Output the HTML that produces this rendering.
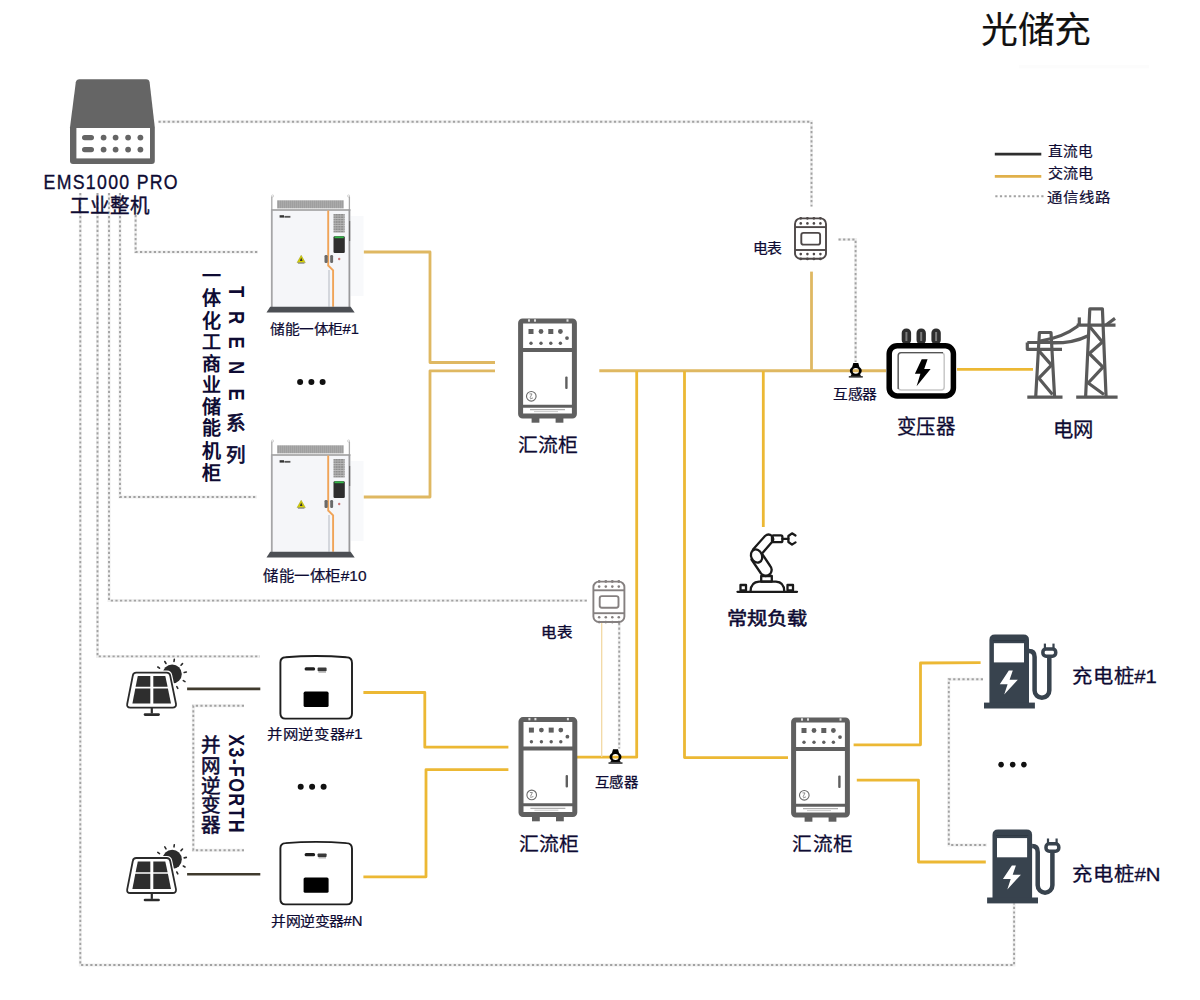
<!DOCTYPE html>
<html lang="zh-CN"><head><meta charset="utf-8">
<style>
html,body{margin:0;padding:0;background:#fff;}
body{width:1200px;height:1000px;overflow:hidden;font-family:"Liberation Sans",sans-serif;}
svg{display:block;}
svg text{font-family:"Liberation Sans",sans-serif;fill:#0e0b33;}
.m{stroke:#0e0b33;stroke-width:0.35px;paint-order:stroke;}
.b{font-weight:700;}
.dot{fill:none;stroke:#a2a2a2;stroke-width:1.9;stroke-dasharray:2.2 2.4;}
.dotu{fill:none;stroke:#f0f0f0;stroke-width:3;}
.ac{fill:none;stroke:#ecb834;stroke-width:2.8;stroke-linejoin:round;}
.acm{stroke:#dfb862;}
.dc{fill:none;stroke:#403b2e;stroke-width:2.6;}
</style></head>
<body>
<svg id="s" width="1200" height="1000" viewBox="0 0 1200 1000">
<defs>
  <pattern id="grill" width="2" height="8" patternUnits="userSpaceOnUse">
    <rect width="2" height="8" fill="#aaaaaa"/><rect width="0.8" height="8" fill="#9c9c9c"/>
  </pattern>
  <pattern id="grid" width="2.75" height="2.4" patternUnits="userSpaceOnUse">
    <rect width="2.75" height="2.4" fill="#8e8e8e"/><rect width="2.75" height="0.7" fill="#c4c4c4"/><rect width="0.6" height="2.4" fill="#b8b8b8"/>
  </pattern>
  <!-- storage cabinet, local origin = top-left -->
  <g id="cab">
    <rect x="84.5" y="22" width="13" height="80" fill="#f8f9fb"/>
    <line x1="5.8" y1="2.5" x2="5.8" y2="16" stroke="#a9a9a9" stroke-width="1.3"/>
    <line x1="83.4" y1="2.5" x2="83.4" y2="16" stroke="#a9a9a9" stroke-width="1.3"/>
    <circle cx="6.6" cy="2" r="1.1" fill="none" stroke="#bbb" stroke-width="0.6"/>
    <circle cx="82.6" cy="2" r="1.1" fill="none" stroke="#bbb" stroke-width="0.6"/>
    <rect x="11.1" y="6.3" width="66.6" height="8.1" fill="url(#grill)"/>
    <rect x="5" y="15.5" width="79.4" height="97.5" fill="#f5f6f9"/>
    <line x1="5" y1="16" x2="84.4" y2="16" stroke="#989898" stroke-width="1.6"/>
    <line x1="5.8" y1="15.5" x2="5.8" y2="113" stroke="#a6a6a8" stroke-width="1.8"/>
    <line x1="83.4" y1="15.5" x2="83.4" y2="113" stroke="#9a9a9c" stroke-width="1.8"/>
    <line x1="83.6" y1="27" x2="83.6" y2="47" stroke="#6a6a6a" stroke-width="1.2"/>
    <rect x="13.6" y="21.2" width="4.4" height="2.4" fill="#333"/><rect x="18.4" y="21.9" width="6" height="1.8" fill="#555"/>
    <line x1="63" y1="76" x2="63" y2="112.8" stroke="#c6cad2" stroke-width="1.4"/>
    <polyline points="62.2,16.5 62.2,71.5 67.1,76.4 67.1,112.8" fill="none" stroke="#f0a458" stroke-width="1.9"/>
    <rect x="67.5" y="20" width="11.2" height="18.6" fill="url(#grid)"/>
    <rect x="67.5" y="42.2" width="11.3" height="16.8" rx="1.2" fill="#2e2e2e"/>
    <rect x="68.5" y="42.4" width="9.3" height="1.8" fill="#36b84a"/>
    <rect x="58.5" y="61" width="3.2" height="8" rx="1.2" fill="#6a6a6a"/>
    <rect x="64.2" y="61" width="2.9" height="8" rx="1.2" fill="#6a6a6a"/>
    <circle cx="73.2" cy="65" r="1.2" fill="#c77"/>
    <polygon points="35.2,61.3 39.3,68.6 31.1,68.6" fill="#d8d200" stroke="#9a9a20" stroke-width="0.5" stroke-linejoin="round"/>
    <path d="M35.2 63.6 L36.6 66.9 L33.8 66.9 Z" fill="#333"/>
    <rect x="32" y="68.6" width="6.4" height="1" fill="#777"/>
    <polygon points="4.2,112.8 84.6,112.8 88.7,118.5 0.5,118.5" fill="#4c4f54"/>
  </g>
  <!-- combiner cabinet, origin top-left -->
  <g id="comb">
    <rect x="13.6" y="98" width="7.8" height="6.3" fill="#5f5f5f"/>
    <rect x="37.6" y="98" width="7.8" height="6.3" fill="#5f5f5f"/>
    <rect x="2.6" y="2.6" width="53.8" height="95" rx="2" fill="#fff" stroke="#606060" stroke-width="5"/>
    <line x1="2.6" y1="31.5" x2="56.4" y2="31.5" stroke="#5f5f5f" stroke-width="4"/>
    <line x1="2.6" y1="87.8" x2="56.4" y2="87.8" stroke="#5f5f5f" stroke-width="3"/>
    <rect x="10" y="0.9" width="2" height="2.4" fill="#ddd"/><rect x="16" y="0.9" width="2" height="2.4" fill="#ddd"/><rect x="48.5" y="0.9" width="2" height="2.4" fill="#ddd"/>
    <rect x="10.5" y="10.6" width="5" height="5" fill="#5f5f5f"/>
    <circle cx="23" cy="13.1" r="2.4" fill="#5f5f5f"/>
    <rect x="30.3" y="10.6" width="5" height="5" fill="#5f5f5f"/>
    <circle cx="42.4" cy="13.1" r="2.4" fill="#5f5f5f"/>
    <circle cx="13" cy="24.8" r="1.7" fill="#5f5f5f"/><circle cx="23" cy="24.8" r="1.7" fill="#5f5f5f"/>
    <circle cx="32.8" cy="24.8" r="1.7" fill="#5f5f5f"/><circle cx="42.4" cy="24.8" r="1.7" fill="#5f5f5f"/>
    <circle cx="49" cy="19.7" r="1.9" fill="#5f5f5f"/>
    <rect x="47.2" y="58" width="2.4" height="12.6" rx="1" fill="#5f5f5f"/>
    <circle cx="13.3" cy="77.9" r="4.8" fill="none" stroke="#6a6a6a" stroke-width="1.1"/>
    <path d="M11.5 75.5 l2.5 0 l-2 4 M12 80.5 l3 -1" fill="none" stroke="#777" stroke-width="0.8"/>
    <line x1="12" y1="91.3" x2="47" y2="91.3" stroke="#9a9a9a" stroke-width="1"/>
    <line x1="16" y1="93.2" x2="40" y2="93.2" stroke="#bbb" stroke-width="0.8"/>
  </g>
  <!-- meter, origin top-left -->
  <g id="meter">
    <rect x="1" y="1" width="31" height="40.4" rx="5.5" fill="#fff"/>
    <g fill="currentColor">
      <circle cx="6.75" cy="0.9" r="1.4"/><circle cx="13.4" cy="0.9" r="1.4"/><circle cx="19.9" cy="0.9" r="1.4"/><circle cx="26.4" cy="0.9" r="1.4"/>
      <circle cx="6.75" cy="41.5" r="1.4"/><circle cx="13.4" cy="41.5" r="1.4"/><circle cx="19.9" cy="41.5" r="1.4"/><circle cx="26.4" cy="41.5" r="1.4"/>
      <circle cx="6.75" cy="6" r="1.3"/><circle cx="13.4" cy="6" r="1.3"/><circle cx="19.9" cy="6" r="1.3"/><circle cx="26.4" cy="6" r="1.3"/>
      <circle cx="6.75" cy="36.7" r="1.3"/><circle cx="13.4" cy="36.7" r="1.3"/><circle cx="19.9" cy="36.7" r="1.3"/><circle cx="26.4" cy="36.7" r="1.3"/>
    </g>
    <rect x="1" y="1" width="31" height="40.4" rx="5.5" fill="none" stroke="currentColor" stroke-width="1.9"/>
    <line x1="1" y1="9.7" x2="32" y2="9.7" stroke="currentColor" stroke-width="1.9"/>
    <line x1="1" y1="32.6" x2="32" y2="32.6" stroke="currentColor" stroke-width="1.9"/>
    <rect x="7.3" y="15.5" width="18.8" height="11.7" rx="2.2" fill="none" stroke="currentColor" stroke-width="1.9"/>
  </g>
  <!-- current transformer, origin = ring centre -->
  <g id="ct">
    <path d="M-2.5 -7.7 L2.5 -7.7 L3.6 -3.8 L-3.6 -3.8 Z" fill="#000"/>
    <path d="M-4.2 3.2 L4.2 3.2 L5.4 5.6 L-5.4 5.6 Z" fill="#111"/>
    <path fill="#000" fill-rule="evenodd" d="M-6 0 A6 4.8 0 1 0 6 0 A6 4.8 0 1 0 -6 0 Z M-3.2 0 A3.2 2.9 0 1 0 3.2 0 A3.2 2.9 0 1 0 -3.2 0 Z"/>
    <rect x="-7" y="5.3" width="14" height="1.5" fill="#2a2a2a"/>
  </g>
  <!-- inverter -->
  <g id="inv">
    <path d="M285.5 657.3 Q316 654.8 346.5 657.3 Q352 657.5 352 663 L352 713.5 Q352 718.6 347 718.6 L285.4 718.6 Q280.4 718.6 280.4 713.5 L280.4 662.5 Q280.4 657.6 285.5 657.3 Z" fill="#fff" stroke="#1e1e1e" stroke-width="1.9"/>
    <rect x="304.6" y="667.2" width="10.5" height="3.2" rx="1.5" fill="#1e1e1e"/><rect x="317.6" y="667.6" width="9" height="3.6" rx="0.8" fill="#3a3a3a"/><rect x="318.5" y="671.6" width="7.5" height="0.9" fill="#888"/>
    <rect x="303.6" y="691.6" width="25" height="15.4" rx="1.6" fill="#000"/>
  </g>
  <!-- solar panel -->
  <g id="solar">
    <circle cx="172.2" cy="674" r="9.6" fill="#2b2b2b"/>
    <g stroke="#2b2b2b" stroke-width="1.6" stroke-linecap="round">
      <line x1="164.8" y1="661.5" x2="166" y2="663.5"/>
      <line x1="174.3" y1="659.3" x2="174" y2="661.5"/>
      <line x1="182.5" y1="663.6" x2="181" y2="665.2"/>
      <line x1="186.3" y1="672" x2="184.2" y2="672.5"/>
      <line x1="185" y1="681.6" x2="183.3" y2="680.6"/>
      <line x1="177.8" y1="688.4" x2="176.8" y2="686.6"/>
      <line x1="157.8" y1="667" x2="159.5" y2="668.2"/>
    </g>
    <path d="M135.8 670.5 L167 670.5 Q171.4 670.5 172.2 675 L178.4 704.5 Q179 710 173.6 710 L129 710 Q124 710 124.8 704.5 L130.7 675 Q131.5 670.5 135.8 670.5 Z" fill="#fff"/>
    <path d="M136.2 672.6 L166.6 672.6 Q169.6 672.6 170.2 675.6 L176 704 Q176.4 707.6 172.6 707.6 L130.2 707.6 Q126.6 707.6 127.2 704 L132.8 675.6 Q133.3 672.6 136.2 672.6 Z" fill="#fff" stroke="#2b2b2b" stroke-width="1.8"/>
    <path d="M137.8 676 L150.3 676 L150.3 686.8 L135.6 686.8 Z" fill="#2e2e2e"/>
    <path d="M153.3 676 L165.3 676 L167.6 686.8 L153.3 686.8 Z" fill="#2e2e2e"/>
    <path d="M135.3 688.4 L150.3 688.4 L150.3 703.6 L132.4 703.6 Z" fill="#2e2e2e"/>
    <path d="M153.3 688.4 L167.9 688.4 L171 703.6 L153.3 703.6 Z" fill="#2e2e2e"/>
    <line x1="151.8" y1="707.6" x2="151.8" y2="713.5" stroke="#2b2b2b" stroke-width="2.2"/>
    <line x1="145" y1="714.6" x2="158.6" y2="714.6" stroke="#2b2b2b" stroke-width="2.6" stroke-linecap="round"/>
  </g>
  <!-- charger -->
  <g id="chg">
    <path d="M989.4 703.3 L989.4 640 Q989.4 634.5 994.9 634.5 L1023.5 634.5 Q1029 634.5 1029 640 L1029 703.3 Z" fill="#38434e"/>
    <rect x="984" y="702.6" width="50.9" height="5.9" fill="#38434e"/>
    <rect x="993.9" y="643.2" width="30.1" height="19.2" fill="#fff"/>
    <line x1="993" y1="640.6" x2="1025" y2="640.6" stroke="#2f3943" stroke-width="1"/>
    <polygon points="1008.8,670.6 999.8,684.2 1007.6,684.2 1004.2,694.6 1017.8,679.8 1009.6,679.8 1012.8,670.6" fill="#fff"/>
    <path d="M1029 651 Q1034.6 651 1034.6 657 L1034.6 690.4 A7.35 7.35 0 0 0 1049.3 690.4 L1049.3 657" fill="none" stroke="#38434e" stroke-width="4.5"/>
    <rect x="1042.9" y="648.9" width="12.8" height="7.4" rx="3.2" fill="#fff" stroke="#38434e" stroke-width="3.5"/>
    <rect x="1043.8" y="643.6" width="2.2" height="4.6" fill="#38434e"/>
    <rect x="1052.4" y="643.6" width="2.2" height="4.6" fill="#38434e"/>
  </g>
</defs>

<!-- ============ LINES ============ -->
<g class="dotu">
  <polyline points="158.5,121.7 811.5,121.7 811.5,206.5"/>
  <polyline points="135.6,215 135.6,252 258,252"/>
  <polyline points="120,193 120,497 257,497"/>
  <polyline points="109,193 109,600.6 587,600.6"/>
  <polyline points="97.5,193 97.5,656.4 260,656.4"/>
  <polyline points="80.3,193 80.3,965 1014.1,965 1014.1,903.5"/>
  <polyline points="838.5,239.5 855.6,239.5 855.6,362"/>
  <polyline points="244,705.7 193.3,705.7 193.3,850.2 244,850.2"/>
  <polyline points="619.2,623 619.2,748.5"/>
  <polyline points="983,679.2 948.8,679.2 948.8,845 987,845"/>
</g>
<g class="dot">
  <polyline points="158.5,121.7 811.5,121.7 811.5,206.5"/>
  <polyline points="135.6,215 135.6,252 258,252"/>
  <polyline points="120,193 120,497 257,497"/>
  <polyline points="109,193 109,600.6 587,600.6"/>
  <polyline points="97.5,193 97.5,656.4 260,656.4"/>
  <polyline points="80.3,193 80.3,965 1014.1,965 1014.1,903.5"/>
  <polyline points="838.5,239.5 855.6,239.5 855.6,362"/>
  <polyline points="244,705.7 193.3,705.7 193.3,850.2 244,850.2"/>
  <polyline points="619.2,623 619.2,748.5"/>
  <polyline points="983,679.2 948.8,679.2 948.8,845 987,845"/>
</g>
<g class="ac">
  <polyline class="acm" points="363.7,252 430,252 430,362.5 495,362.5"/>
  <polyline class="acm" points="363.6,497 430,497 430,370.8 495,370.8"/>
  <polyline class="acm" points="599.3,370.8 886,370.8" style="stroke-width:3"/>
  <polyline points="957,369.4 1033,369.4"/>
  <polyline class="acm" points="811.5,271.6 811.5,371"/>
  <polyline points="636.7,371 636.7,757.2 575.6,757.2"/>
  <polyline points="684.5,371 684.5,757.6 788,757.6"/>
  <polyline points="763.3,371 763.3,527"/>
  <polyline points="363.4,692.5 424.8,692.5 424.8,747.2 508.4,747.2"/>
  <polyline points="363.4,876.8 426,876.8 426,769.6 508.4,769.6"/>
  <polyline points="853.6,744.8 920.5,744.8 920.5,663 980.6,662.7"/>
  <polyline points="856.8,780.2 918.5,780.2 918.5,862 985.8,862"/>
</g>
<line x1="601.7" y1="622" x2="601.7" y2="757" stroke="#f2d9a4" stroke-width="1.3"/>
<g class="dc">
  <line x1="187.1" y1="688.9" x2="260.3" y2="688.9"/>
  <line x1="187.1" y1="874.3" x2="260.3" y2="874.3"/>
</g>

<!-- legend -->
<rect x="1019" y="65" width="130" height="3.3" fill="#fcfcfc"/>
<line x1="994.8" y1="154.1" x2="1041.3" y2="154.1" stroke="#2e2e2e" stroke-width="2.8"/>
<line x1="994.8" y1="176.3" x2="1041.3" y2="176.3" stroke="#e0b04a" stroke-width="2.8"/>
<line x1="995.3" y1="196.3" x2="1044" y2="196.3" class="dot"/>

<!-- ============ ICONS ============ -->
<!-- EMS -->
<path d="M79.4 79.2 L146.2 79.2 Q149.2 79.2 149.6 82.2 L154.8 127.2 L154.8 161 Q154.8 164 151.8 164 L73 164 Q70 164 70 161 L70 127.2 L75.8 82.2 Q76.4 79.2 79.4 79.2 Z" fill="#656565"/>
<rect x="76.4" y="128" width="73.6" height="30.4" fill="#fff"/>
<g fill="#656565">
  <rect x="82" y="134.9" width="12" height="5.4" rx="2.7"/><rect x="82" y="146.9" width="12" height="5.4" rx="2.7"/>
  <circle cx="103.6" cy="137.6" r="2.9"/><circle cx="115.6" cy="137.6" r="2.9"/><circle cx="128.1" cy="137.6" r="2.9"/><circle cx="140.4" cy="137.6" r="2.9"/>
  <circle cx="103.6" cy="149.6" r="2.9"/><circle cx="115.6" cy="149.6" r="2.9"/><circle cx="128.1" cy="149.6" r="2.9"/><circle cx="140.4" cy="149.6" r="2.9"/>
</g>

<!-- storage cabinets -->
<use href="#cab" x="266" y="194"/>
<use href="#cab" x="266" y="439"/>

<!-- combiners -->
<use href="#comb" x="518" y="318.4"/>
<use href="#comb" x="518.4" y="717"/>
<use href="#comb" x="791" y="717.4"/>

<!-- meters -->
<use href="#meter" x="794" y="217.4" style="color:#4e4848"/>
<use href="#meter" x="592.4" y="580.6" style="color:#858080"/>

<!-- CTs -->
<use href="#ct" x="855.8" y="370.8"/>
<use href="#ct" x="615.5" y="757"/>

<!-- transformer -->
<g>
  <g fill="#2e2e2e">
    <rect x="901.7" y="328.5" width="9.4" height="16" rx="4.5"/>
    <rect x="916.5" y="328.5" width="9.4" height="16" rx="4.5"/>
    <rect x="931.4" y="328.5" width="9.4" height="16" rx="4.5"/>
  </g>
  <g fill="#7a7a7a">
    <rect x="905.4" y="332" width="2" height="9"/><rect x="920.2" y="332" width="2" height="9"/><rect x="935.1" y="332" width="2" height="9"/>
  </g>
  <rect x="889.2" y="345.8" width="64.2" height="50.1" rx="8" fill="#fff" stroke="#000" stroke-width="5.5"/>
  <rect x="898.2" y="352.7" width="46" height="37.2" rx="3" fill="#fff" stroke="#c8c8c8" stroke-width="1.5"/>
  <path d="M898.2 389 L898.2 355.7 Q898.2 352.7 901.2 352.7 L943 352.7" fill="none" stroke="#555" stroke-width="1.3"/>
  <polygon points="921.7,359.3 927.6,359.3 924.2,368.9 930.6,368.9 916.6,386.2 920.4,373.7 914.9,373.7" fill="#000"/>
</g>

<!-- towers -->
<g fill="none" stroke="#595959" stroke-width="3.2" stroke-linejoin="round">
  <line x1="1027.3" y1="397.1" x2="1062.5" y2="397.1"/>
  <polyline points="1035.7,397 1039.4,332.5 1051,332.5 1054.6,397"/>
  <polyline points="1027.3,342.5 1062,342.5"/>
  <polyline points="1027.3,342.5 1027.3,349.3 1062,349.3"/>
  <polyline points="1039.4,351.4 1051.5,365.1 1038.9,378.2 1052.5,394.5"/>
  <line x1="1076.2" y1="397.1" x2="1117.6" y2="397.1"/>
  <polyline points="1085.6,397 1089.8,308.9 1102.4,308.9 1106.1,397"/>
  <line x1="1076.7" y1="325.2" x2="1115.5" y2="325.2"/>
  <line x1="1106" y1="325" x2="1115" y2="318.4"/>
  <line x1="1079.3" y1="317.4" x2="1079.3" y2="325"/>
  <polyline points="1089.8,326.8 1102.4,342 1089.3,353.5 1103,367.2 1088.2,383 1104,394.5"/>
  <path d="M1040 341 Q1062 338 1078 326"/>
  <path d="M1053 343 Q1074 343 1087.5 336"/>
</g>

<!-- robot arm -->
<g fill="none" stroke="#1a1a1a" stroke-width="2.3" stroke-linejoin="round" stroke-linecap="round">
  <line x1="737.5" y1="591.8" x2="797" y2="591.8"/>
  <path d="M750.6 591 Q751 582 759 581.6 L776 581.6 Q784 582 784.2 591"/>
  <rect x="740.5" y="585" width="5.5" height="5.5"/>
  <rect x="787.5" y="585" width="5.5" height="5.5"/>
  <rect x="761.2" y="576" width="10.6" height="5.6"/>
  <path d="M751.5 559.5 L761 573.5 Q766 578.5 770.5 573.5 Q773 569.5 770.2 566 L762.5 554.5"/>
  <ellipse cx="756.6" cy="556" rx="5.4" ry="6.8" transform="rotate(-25 756.6 556)"/>
  <path d="M753 549.5 L765 536 Q768.5 533 772 536 Q774.5 539.5 772 542 L762.5 553"/>
  <rect x="772" y="535.4" width="10.4" height="6.8" rx="1.5"/>
  <path d="M795.5 535.5 L792 533.3 L788.4 536 L788.4 542 L792 544.6 L795.5 542.4"/>
  <line x1="782.4" y1="538.8" x2="788.4" y2="538.8"/>
</g>

<!-- inverters -->
<use href="#inv"/>
<use href="#inv" y="185.8"/>
<use href="#solar"/>
<use href="#solar" y="185.4"/>

<!-- chargers -->
<use href="#chg"/>
<use href="#chg" x="3.1" y="194.9"/>

<!-- dots "..." -->
<g fill="#111">
  <circle cx="300.1" cy="381.9" r="3"/><circle cx="311.4" cy="381.9" r="3"/><circle cx="322.6" cy="381.9" r="3"/>
  <circle cx="300.7" cy="786.75" r="3"/><circle cx="312.1" cy="786.75" r="3"/><circle cx="323.6" cy="786.75" r="3"/>
  <circle cx="1001.1" cy="764.6" r="2.8"/><circle cx="1012.7" cy="764.6" r="2.8"/><circle cx="1023.9" cy="764.6" r="2.8"/>
</g>

<!-- ============ TEXT ============ -->
<text transform="translate(1036.23 43.12) scale(1.030 1)" font-size="35.80" text-anchor="middle" style="fill:#111;stroke:#111;stroke-width:0.15px;">光储充</text>
<text transform="translate(1070.43 156.07) scale(1.068 1)" font-size="13.80" text-anchor="middle" style="fill:#0e0b33;stroke:#0e0b33;stroke-width:0.2px;letter-spacing:0.3px;">直流电</text>
<text transform="translate(1070.36 178.36) scale(1.096 1)" font-size="13.80" text-anchor="middle" style="fill:#0e0b33;stroke:#0e0b33;stroke-width:0.2px;letter-spacing:0.3px;">交流电</text>
<text transform="translate(1079.02 201.69) scale(1.116 1)" font-size="13.80" text-anchor="middle" style="fill:#0e0b33;stroke:#0e0b33;stroke-width:0.2px;">通信线路</text>
<text transform="translate(111.25 188.98) scale(0.872 1)" font-size="20.30" text-anchor="middle" style="fill:#0e0b33;stroke:#0e0b33;stroke-width:0.35px;letter-spacing:1.5px;">EMS1000 PRO</text>
<text transform="translate(109.86 212.50) scale(0.975 1)" font-size="20.02" text-anchor="middle" style="fill:#0e0b33;stroke:#0e0b33;stroke-width:0.4px;">工业整机</text>
<text transform="translate(314.61 333.58) scale(1.073 1)" font-size="13.77" text-anchor="middle" style="fill:#0e0b33;stroke:#0e0b33;stroke-width:0.2px;">储能一体柜#1</text>
<text transform="translate(314.90 581.27) scale(1.071 1)" font-size="14.47" text-anchor="middle" style="fill:#0e0b33;stroke:#0e0b33;stroke-width:0.2px;">储能一体柜#10</text>
<text transform="translate(548.22 452.19) scale(1.024 1)" font-size="19.39" text-anchor="middle" style="fill:#0e0b33;stroke:#0e0b33;stroke-width:0.25px;">汇流柜</text>
<text transform="translate(549.22 851.39) scale(1.024 1)" font-size="19.39" text-anchor="middle" style="fill:#0e0b33;stroke:#0e0b33;stroke-width:0.25px;">汇流柜</text>
<text transform="translate(822.70 851.39) scale(1.016 1)" font-size="19.39" text-anchor="middle" style="fill:#0e0b33;stroke:#0e0b33;stroke-width:0.25px;">汇流柜</text>
<text transform="translate(766.85 253.10) scale(1.043 1)" font-size="14.20" text-anchor="middle" style="fill:#0e0b33;stroke:#0e0b33;stroke-width:0.25px;">电表</text>
<text transform="translate(557.12 637.28) scale(1.105 1)" font-size="14.00" text-anchor="middle" style="fill:#0e0b33;stroke:#0e0b33;stroke-width:0.4px;">电表</text>
<text transform="translate(854.84 398.57) scale(1.077 1)" font-size="13.70" text-anchor="middle" style="fill:#0e0b33;stroke:#0e0b33;stroke-width:0.25px;">互感器</text>
<text transform="translate(616.34 786.51) scale(1.050 1)" font-size="13.70" text-anchor="middle" style="fill:#0e0b33;stroke:#0e0b33;stroke-width:0.25px;">互感器</text>
<text transform="translate(926.16 434.20) scale(0.969 1)" font-size="20.03" text-anchor="middle" style="fill:#0e0b33;stroke:#0e0b33;stroke-width:0.3px;">变压器</text>
<text transform="translate(1073.38 436.60) scale(0.997 1)" font-size="20.44" text-anchor="middle" style="fill:#0e0b33;stroke:#0e0b33;stroke-width:0.3px;">电网</text>
<text transform="translate(767.12 624.80) scale(1.097 1)" font-size="18.45" text-anchor="middle" style="fill:#0e0b33;stroke:#0e0b33;stroke-width:0.55px;">常规负载</text>
<text transform="translate(314.78 739.21) scale(1.101 1)" font-size="14.00" text-anchor="middle" style="fill:#0e0b33;stroke:#0e0b33;stroke-width:0.2px;">并网逆变器#1</text>
<text transform="translate(316.80 925.51) scale(1.075 1)" font-size="13.86" text-anchor="middle" style="fill:#0e0b33;stroke:#0e0b33;stroke-width:0.2px;">并网逆变器#N</text>
<text transform="translate(1114.53 682.85) scale(1.071 1)" font-size="18.99" text-anchor="middle" style="fill:#0e0b33;stroke:#0e0b33;stroke-width:0.3px;">充电桩#1</text>
<text transform="translate(1116.45 880.85) scale(1.073 1)" font-size="18.99" text-anchor="middle" style="fill:#0e0b33;stroke:#0e0b33;stroke-width:0.3px;">充电桩#N</text>
<text x="211.20" y="283.10" font-size="19" font-weight="700" text-anchor="middle">一</text>
<text x="211.20" y="305.10" font-size="19" font-weight="700" text-anchor="middle">体</text>
<text x="211.20" y="327.90" font-size="19" font-weight="700" text-anchor="middle">化</text>
<text x="211.20" y="348.80" font-size="19" font-weight="700" text-anchor="middle">工</text>
<text x="211.20" y="371.35" font-size="19" font-weight="700" text-anchor="middle">商</text>
<text x="211.20" y="391.90" font-size="19" font-weight="700" text-anchor="middle">业</text>
<text x="211.20" y="413.80" font-size="19" font-weight="700" text-anchor="middle">储</text>
<text x="211.20" y="435.40" font-size="19" font-weight="700" text-anchor="middle">能</text>
<text x="211.20" y="457.60" font-size="19" font-weight="700" text-anchor="middle">机</text>
<text x="211.20" y="479.50" font-size="19" font-weight="700" text-anchor="middle">柜</text>
<text x="235.90" y="430.30" font-size="19.5" text-anchor="middle" style="stroke:#0e0b33;stroke-width:0.7px">系</text>
<text x="235.90" y="462.30" font-size="19.5" text-anchor="middle" style="stroke:#0e0b33;stroke-width:0.7px">列</text>
<text x="211.20" y="751.50" font-size="19.5" text-anchor="middle" style="stroke:#0e0b33;stroke-width:0.55px">并</text>
<text x="211.20" y="773.10" font-size="19.5" text-anchor="middle" style="stroke:#0e0b33;stroke-width:0.55px">网</text>
<text x="211.20" y="792.70" font-size="19.5" text-anchor="middle" style="stroke:#0e0b33;stroke-width:0.55px">逆</text>
<text x="211.20" y="812.00" font-size="19.5" text-anchor="middle" style="stroke:#0e0b33;stroke-width:0.55px">变</text>
<text x="211.20" y="832.20" font-size="19.5" text-anchor="middle" style="stroke:#0e0b33;stroke-width:0.55px">器</text>
<text transform="translate(229.20 291.60) rotate(90) scale(0.86 1)" font-size="21.3" font-weight="700" text-anchor="middle" dominant-baseline="auto">T</text>
<text transform="translate(229.20 317.50) rotate(90) scale(0.86 1)" font-size="21.3" font-weight="700" text-anchor="middle" dominant-baseline="auto">R</text>
<text transform="translate(229.20 342.50) rotate(90) scale(0.86 1)" font-size="21.3" font-weight="700" text-anchor="middle" dominant-baseline="auto">E</text>
<text transform="translate(229.20 367.50) rotate(90) scale(0.86 1)" font-size="21.3" font-weight="700" text-anchor="middle" dominant-baseline="auto">N</text>
<text transform="translate(229.20 394.60) rotate(90) scale(0.86 1)" font-size="21.3" font-weight="700" text-anchor="middle" dominant-baseline="auto">E</text>
<text transform="translate(229.40 734.2) rotate(90) scale(0.84 1)" font-size="21.2" font-weight="700" style="letter-spacing:1.6px">X3-FORTH</text>
</svg>
</body></html>
